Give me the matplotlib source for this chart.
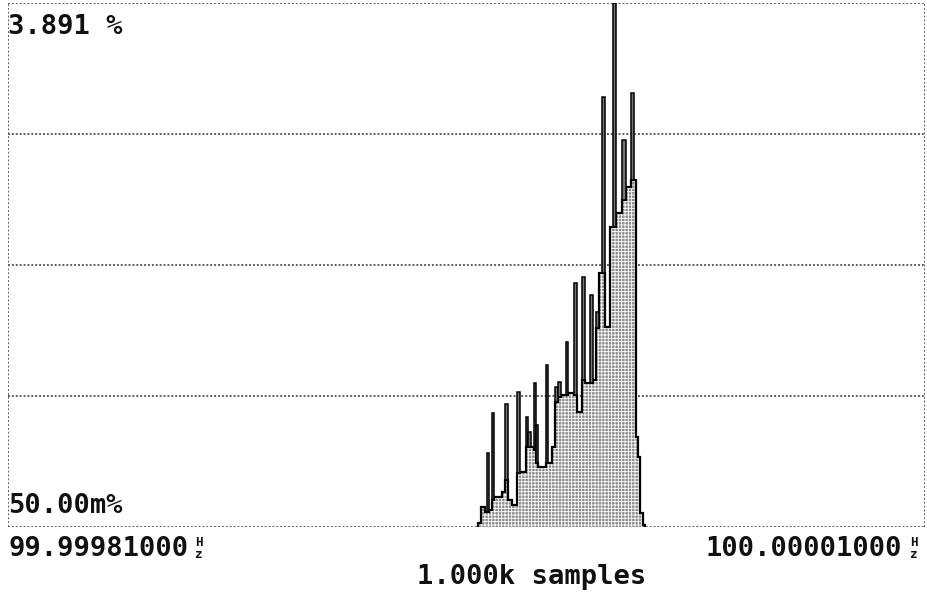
import numpy as np
import matplotlib
matplotlib.use('Agg')
import matplotlib.pyplot as plt

# --- DATA (read off the screen capture) ---
# frequency span of the display, Hz offset from 99.99981000 MHz
SPAN_HZ = (0.0, 200.0)
Y_RANGE = (0.05, 3.891)          # percent, bottom / top of screen

# bin edges (Hz offset from 99.99981000 MHz)
edges = [102.5, 103.2, 104.0, 104.5, 104.9, 105.6, 106.0, 107.7, 108.4, 109.1,
         109.9, 111.0, 111.7, 113.0, 113.4, 114.1, 114.7, 115.2, 115.6, 117.3,
         117.8, 118.7, 119.3, 120.0, 120.6, 121.7, 122.1, 123.4, 124.1, 125.2,
         125.8, 126.9, 127.6, 128.2, 128.9, 129.6, 130.2, 131.3, 132.0, 132.6,
         133.9, 134.8, 135.9, 136.5, 137.0, 137.4, 137.8, 138.5, 138.9]

# filled (base) level of every bin, percent
fill_pct = [0.079, 0.197, 0.160, 0.160, 0.175, 0.248, 0.270, 0.307, 0.395, 0.248,
            0.211, 0.446, 0.453, 0.636, 0.636, 0.636, 0.614, 0.519, 0.490, 0.519,
            0.519, 0.636, 0.966, 1.003, 1.018, 1.018, 1.032, 1.018, 0.893, 1.128,
            1.105, 1.105, 1.128, 1.509, 1.912, 1.912, 1.516, 2.249, 2.249, 2.352,
            2.447, 2.542, 2.594, 2.594, 0.710, 0.563, 0.153, 0.065]

# peak (spike) level of every bin, percent
peak_pct = [0.079, 0.197, 0.160, 0.592, 0.175, 0.886, 0.270, 0.307, 0.952, 0.248,
            0.211, 1.040, 0.453, 0.856, 0.746, 0.636, 1.105, 0.798, 0.490, 1.237,
            0.519, 0.636, 1.076, 1.113, 1.018, 1.406, 1.032, 1.839, 0.893, 1.883,
            1.105, 1.751, 1.128, 1.626, 1.912, 3.202, 1.516, 2.249, 3.891, 2.352,
            2.887, 2.542, 3.231, 2.594, 0.710, 0.563, 0.153, 0.065]

TOP_LABEL = '3.891 %'
BOTTOM_LABEL = '50.00m%'
LEFT_FREQ = '99.99981000'
RIGHT_FREQ = '100.00001000'
SAMPLES = '1.000k samples'

# --- FIGURE ---
W, H = 928, 594
fig = plt.figure(figsize=(W / 100, H / 100), dpi=100)
fig.set_facecolor('white')


def fx(px):
    return px / W


def fy(py):
    return 1 - py / H


ax = fig.add_axes([fx(8), fy(527), (925 - 8) / W, (527 - 3) / H])
ax.set_xlim(*SPAN_HZ)
ax.set_ylim(*Y_RANGE)
ax.set_xticks([])
ax.set_yticks([])
for s in ax.spines.values():
    s.set_visible(False)

dot = dict(color='#606060', lw=1.4, ls=(0, (1, 1)), zorder=1)
# dotted frame + 3 grid lines (screen divided in 4)
for i in range(5):
    ax.axhline(Y_RANGE[0] + i * (Y_RANGE[1] - Y_RANGE[0]) / 4, **dot)
ax.axvline(SPAN_HZ[0], **dot)
ax.axvline(SPAN_HZ[1], **dot)

e = np.array(edges)
f = np.array(fill_pct)
p = np.array(peak_pct)

# stippled fill
plt.rcParams['hatch.linewidth'] = 0.6
ax.stairs(f, e, baseline=Y_RANGE[0], fill=True, facecolor='#8e8e8e',
          edgecolor='white', hatch='+++++', lw=0, zorder=2)
# outline of the filled level
ax.stairs(f, e, baseline=Y_RANGE[0], color='black', lw=1.6, zorder=3)

# spikes above the filled level
spk = p > f
ax.bar(e[:-1][spk], (p - f)[spk], bottom=f[spk], width=np.diff(e)[spk],
       align='edge', color='#777777', edgecolor='black', lw=1.1, zorder=4)

# --- TEXT ---
mono = dict(family='DejaVu Sans Mono', weight='bold', fontsize=19.5, color='#111111')
fig.text(fx(8), fy(27), TOP_LABEL, ha='left', va='center', **mono)
fig.text(fx(8), fy(506), BOTTOM_LABEL, ha='left', va='center', **mono)
fig.text(fx(8), fy(549), LEFT_FREQ, ha='left', va='center', **mono)
fig.text(fx(902), fy(549), RIGHT_FREQ, ha='right', va='center', **mono)
fig.text(fx(532), fy(577), SAMPLES, ha='center', va='center', **mono)

# stacked "Hz" unit glyph after each frequency
small = dict(family='DejaVu Sans Mono', weight='bold', fontsize=9, color='#111111')
for x0 in (199, 914):
    fig.text(fx(x0), fy(543), 'H', ha='center', va='center', **small)
    fig.text(fx(x0), fy(555), 'z', ha='center', va='center', **small)

fig.savefig('out.png', dpi=100, facecolor='white')
